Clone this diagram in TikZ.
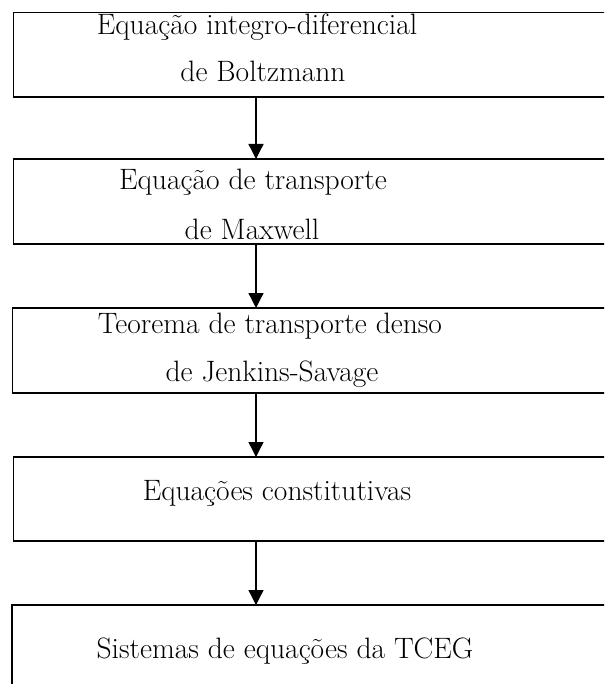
\documentclass[tikz,border=0pt]{standalone}
\usetikzlibrary{arrows.meta}
\begin{document}
\begin{tikzpicture}[x=1pt,y=-1pt,
  box/.style={draw, line width=1.3pt, rectangle, anchor=north west, inner sep=0pt, outer sep=0pt, minimum width=620pt},
  txt/.style={anchor=base, inner sep=0pt, font=\fontsize{29.5}{34}\selectfont},
  arr/.style={line width=1.3pt, -{Triangle[width=15pt,length=15pt]}}]
\useasboundingbox (0,0) rectangle (604,684);
\clip (0,0) rectangle (604,684);
\node[box, minimum height=84.5pt] (b1) at (13.5,12.5) {};
\node[box, minimum height=85pt] (b2) at (13.5,159) {};
\node[box, minimum height=85pt] (b3) at (12.5,308) {};
\node[box, minimum height=84pt] (b4) at (13.5,457) {};
\node[box, minimum height=100pt] (b5) at (12,605) {};
\node[txt] (t1a) at (257,35) {Equação integro-diferencial};
\node[txt] (t1b) at (263,82) {de Boltzmann};
\node[txt] (t2a) at (253,190) {Equação de transporte};
\node[txt] (t2b) at (252,240) {de Maxwell};
\node[txt] (t3a) at (270,333) {Teorema de transporte denso};
\node[txt] (t3b) at (272,381) {de Jenkins-Savage};
\node[txt] (t4) at (277,500) {Equações constitutivas};
\node[txt] (t5) at (285,658) {Sistemas de equações da TCEG};
\coordinate (ax) at (256,0);
\draw[arr] (b1.south -| ax) -- (b2.north -| ax);
\draw[arr] (b2.south -| ax) -- (b3.north -| ax);
\draw[arr] (b3.south -| ax) -- (b4.north -| ax);
\draw[arr] (b4.south -| ax) -- (b5.north -| ax);
\end{tikzpicture}
\end{document}
